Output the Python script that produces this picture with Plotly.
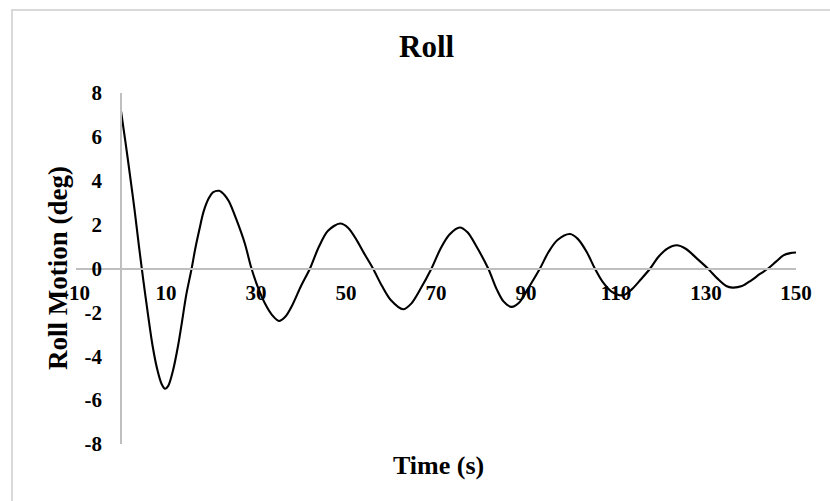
import plotly.graph_objects as go

# ---- data ----
time_s = [0, 1, 2, 3, 4, 5, 6, 7, 8, 9, 9.8, 10.5, 11.5, 12.7, 13.5, 14.5, 15.7,
          16.5, 17.5, 18.3, 19.5, 20.5, 21.8, 23, 24, 25.7, 27.5, 29, 30.5, 32,
          33.5, 35.1, 36.5, 38, 40, 42, 44, 46, 48.7, 50.5, 52.5, 54, 56, 58, 60,
          62.7, 64.5, 66.5, 69, 71, 73, 75.3, 77, 79, 81.6, 83.5, 85, 86.8, 88.5,
          90.5, 93.1, 95, 97, 99.8, 101.5, 103.5, 105.3, 107, 109, 111.6, 113.5,
          115.5, 117.6, 119.5, 121.5, 123.5, 125.5, 128, 130.4, 132.5, 134.5,
          135.9, 138, 140, 142, 143.8, 145.5, 147.2, 148.7, 150]
roll_deg = [7.18, 5.75, 4.25, 2.7, 1.0, -0.6, -2.1, -3.5, -4.55, -5.25, -5.48,
            -5.35, -4.7, -3.5, -2.5, -1.2, 0.0, 0.9, 1.85, 2.56, 3.2, 3.48, 3.54,
            3.35, 3.05, 2.2, 1.15, 0.0, -0.9, -1.6, -2.1, -2.39, -2.2, -1.7, -0.8,
            0.0, 1.0, 1.72, 2.05, 1.85, 1.25, 0.7, 0.0, -0.8, -1.45, -1.86, -1.6,
            -0.95, 0.0, 0.9, 1.55, 1.87, 1.65, 1.0, 0.0, -0.95, -1.5, -1.75, -1.55,
            -0.9, 0.0, 0.75, 1.3, 1.57, 1.35, 0.75, 0.0, -0.6, -1.05, -1.22, -0.95,
            -0.5, 0.0, 0.55, 0.92, 1.06, 0.9, 0.45, 0.0, -0.45, -0.8, -0.87, -0.8,
            -0.55, -0.25, 0.0, 0.3, 0.6, 0.7, 0.73]

x_tick_vals = [-10, 10, 30, 50, 70, 90, 110, 130, 150]
x_tick_text = ["-10", "10", "30", "50", "70", "90", "110", "130", "150"]
y_tick_vals = [-8, -6, -4, -2, 0, 2, 4, 6, 8]
y_tick_text = ["-8", "-6", "-4", "-2", "0", "2", "4", "6", "8"]

title_text = "Roll"
x_title = "Time (s)"
y_title = "Roll Motion (deg)"

FONT = "Liberation Serif"
AXIS_GRAY = "#bfbfbf"

fig = go.Figure()
fig.add_trace(go.Scatter(
    x=time_s, y=roll_deg, mode="lines",
    line=dict(color="black", width=2.1, shape="spline", smoothing=0.9),
    hoverinfo="skip", showlegend=False,
))

fig.update_layout(
    width=830, height=501,
    margin=dict(l=76, r=34, t=93, b=57),
    paper_bgcolor="white", plot_bgcolor="white",
    font=dict(family=FONT, color="black"),
    showlegend=False,
    xaxis=dict(
        range=[-10, 150], tickvals=x_tick_vals, ticktext=x_tick_text,
        showgrid=False, zeroline=False, showline=True,
        linecolor=AXIS_GRAY, linewidth=1.5,
        anchor="free", position=0.5, ticks="",
        tickfont=dict(family=FONT, size=21, color="black", weight="bold"),
        ticklabelstandoff=6,
    ),
    yaxis=dict(
        range=[-8, 8], tickvals=y_tick_vals, ticktext=y_tick_text,
        showgrid=False, zeroline=False, showline=True,
        linecolor=AXIS_GRAY, linewidth=1.5,
        anchor="free", position=0.0625, ticks="",
        tickfont=dict(family=FONT, size=21, color="black", weight="bold"),
        ticklabelstandoff=14,
    ),
)

# chart frame (cropped at right and bottom in the reference)
fig.add_shape(type="rect", xref="paper", yref="paper",
              x0=(12 - 76) / 720, x1=1.5, y0=-0.8, y1=1 + (93 - 10) / 351,
              line=dict(color="#d9d9d9", width=2), fillcolor="rgba(0,0,0,0)",
              layer="below")

fig.add_annotation(text=title_text, xref="paper", yref="paper",
                   x=(427 - 76) / 720, y=1 + (93 - 47) / 351,
                   showarrow=False, xanchor="center", yanchor="middle",
                   font=dict(family=FONT, size=31, color="black", weight="bold"))
fig.add_annotation(text=x_title, xref="paper", yref="paper",
                   x=(438 - 76) / 720, y=-(465 - 444) / 351,
                   showarrow=False, xanchor="center", yanchor="middle",
                   font=dict(family=FONT, size=26, color="black", weight="bold"))
fig.add_annotation(text=y_title, xref="paper", yref="paper",
                   x=(58 - 76) / 720, y=0.5 - (268 - 268.5) / 351,
                   showarrow=False, xanchor="center", yanchor="middle",
                   textangle=-90,
                   font=dict(family=FONT, size=27, color="black", weight="bold"))

fig.write_html("out.html")
